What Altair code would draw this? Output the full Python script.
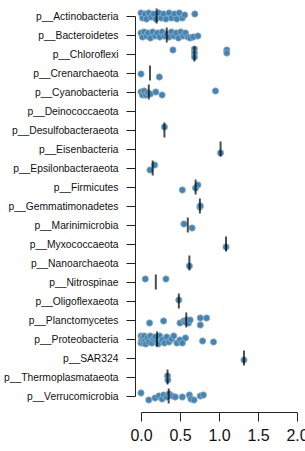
import altair as alt
import pandas as pd

categories = [
    "p__Actinobacteria", "p__Bacteroidetes", "p__Chloroflexi", "p__Crenarchaeota",
    "p__Cyanobacteria", "p__Deinococcaeota", "p__Desulfobacteraeota", "p__Eisenbacteria",
    "p__Epsilonbacteraeota", "p__Firmicutes", "p__Gemmatimonadetes", "p__Marinimicrobia",
    "p__Myxococcaeota", "p__Nanoarchaeota", "p__Nitrospinae", "p__Oligoflexaeota",
    "p__Planctomycetes", "p__Proteobacteria", "p__SAR324", "p__Thermoplasmataeota",
    "p__Verrucomicrobia",
]

# median line per category (None = no data)
medians = [0.20, 0.33, 0.685, 0.115, 0.10, None, 0.30, 1.02, 0.15, 0.70, 0.755, 0.60,
           1.09, 0.62, 0.19, 0.485, 0.58, 0.205, 1.32, 0.34, 0.355]

x_ticks = [0, 0.5, 1.0, 1.5, 2.0]

actino_vals = [0.00, 0.02, 0.05, 0.07, 0.10, 0.13, 0.16, 0.19, 0.23, 0.26, 0.29, 0.32,
               0.36, 0.39, 0.43, 0.46, 0.49, 0.53, 0.56, 0.69]
actino_jit = [-3, 2, -2, 3, -3, 1, -2, 3, -3, 2, -2, 3, -3, 2, -2, 3, -3, 2, -1, -2]

bactero_vals = [0.00, 0.02, 0.04, 0.07, 0.09, 0.12, 0.15, 0.18, 0.21, 0.24, 0.27, 0.30,
                0.33, 0.36, 0.39, 0.42, 0.45, 0.48, 0.51, 0.54, 0.57, 0.60, 0.63, 0.67, 0.73]
bactero_jit = [-2, 2, -3, 1, -2, 3, -3, 1, -2, 2, -3, 1, -1, 2, -3, 1, -2, 3, -3, 1, -2, 2, 3, 2, 1]

chloro_vals = [0.41, 0.685, 0.685, 0.685, 1.10, 1.10]
chloro_jit = [-4, -5, -1, 3, -4, -1]

crenar_vals = [0.00, 0.235]
crenar_jit = [1, 4]

cyano_vals = [0.00, 0.02, 0.04, 0.06, 0.09, 0.12, 0.19, 0.27, 0.955]
cyano_jit = [0, 3, -1, 3, 1, 2, 0, 3, -1]

desulfo_vals = [0.30]
desulfo_jit = [-3]

eisen_vals = [1.02]
eisen_jit = [4]

epsilon_vals = [0.115, 0.175]
epsilon_jit = [2, -3]

firmi_vals = [0.53, 0.70, 0.73]
firmi_jit = [3, 1, -2]

gemma_vals = [0.755, 0.76]
gemma_jit = [1, 0]

marini_vals = [0.55, 0.655]
marini_jit = [-1, 3]

myxo_vals = [1.09]
myxo_jit = [3]

nano_vals = [0.62]
nano_jit = [3]

nitro_vals = [0.055, 0.32]
nitro_jit = [-3, -3]

oligo_vals = [0.485]
oligo_jit = [-1]

plancto_vals = [0.11, 0.29, 0.50, 0.55, 0.57, 0.59, 0.61, 0.63, 0.76, 0.76, 0.84]
plancto_jit = [3, 1, 3, 1, 2, 0, 3, 0, -2, 5, -2]

proteo_vals = [0.00, 0.00, 0.01, 0.02, 0.03, 0.04, 0.05, 0.06, 0.08, 0.10, 0.12, 0.14,
               0.16, 0.18, 0.20, 0.22, 0.24, 0.27, 0.30, 0.33, 0.36, 0.39, 0.42, 0.46,
               0.50, 0.53, 0.57, 0.79, 0.93]
proteo_jit = [-3, 4, 1, -2, 4, -3, 2, 5, -1, 3, -3, 4, 0, -2, 3, 5, -3, 1, 4, -2, 3, 0,
              -3, 4, 1, 4, -1, 2, 3]

sar_vals = [1.32]
sar_jit = [2]

thermo_vals = [0.34, 0.345]
thermo_jit = [-1, 3]

verruco_vals = [0.00, 0.10, 0.18, 0.23, 0.27, 0.29, 0.33, 0.36, 0.40, 0.44, 0.53, 0.62,
                0.64, 0.68, 0.76, 0.80]
verruco_jit = [-3, 4, 2, 0, 3, -1, 1, -2, 0, 1, 1, -1, 3, 4, 0, -1]

groups = [
    ("p__Actinobacteria", actino_vals, actino_jit),
    ("p__Bacteroidetes", bactero_vals, bactero_jit),
    ("p__Chloroflexi", chloro_vals, chloro_jit),
    ("p__Crenarchaeota", crenar_vals, crenar_jit),
    ("p__Cyanobacteria", cyano_vals, cyano_jit),
    ("p__Desulfobacteraeota", desulfo_vals, desulfo_jit),
    ("p__Eisenbacteria", eisen_vals, eisen_jit),
    ("p__Epsilonbacteraeota", epsilon_vals, epsilon_jit),
    ("p__Firmicutes", firmi_vals, firmi_jit),
    ("p__Gemmatimonadetes", gemma_vals, gemma_jit),
    ("p__Marinimicrobia", marini_vals, marini_jit),
    ("p__Myxococcaeota", myxo_vals, myxo_jit),
    ("p__Nanoarchaeota", nano_vals, nano_jit),
    ("p__Nitrospinae", nitro_vals, nitro_jit),
    ("p__Oligoflexaeota", oligo_vals, oligo_jit),
    ("p__Planctomycetes", plancto_vals, plancto_jit),
    ("p__Proteobacteria", proteo_vals, proteo_jit),
    ("p__SAR324", sar_vals, sar_jit),
    ("p__Thermoplasmataeota", thermo_vals, thermo_jit),
    ("p__Verrucomicrobia", verruco_vals, verruco_jit),
]

rows = []
for name, vals, jits in groups:
    for v, j in zip(vals, jits):
        rows.append({"phylum": name, "value": v, "jitter": j})
pts_df = pd.DataFrame(rows)

med_df = pd.DataFrame(
    [{"phylum": c, "value": m} for c, m in zip(categories, medians) if m is not None]
)

FONT = "Liberation Sans"

y_enc = alt.Y(
    "phylum:N",
    sort=categories,
    scale=alt.Scale(type="point", domain=categories, padding=0),
    axis=alt.Axis(
        title=None, offset=6, tickSize=9, labelPadding=8, labelFontSize=10.3,
        labelFont=FONT, labelColor="#111111", domainColor="#222222",
        tickColor="#222222", labelLimit=200, labelOverlap=False,
    ),
)

x_enc = alt.X(
    "value:Q",
    scale=alt.Scale(domain=[0, 2], nice=False),
    axis=alt.Axis(
        title=None, values=x_ticks, format=".1f", offset=16,
        tickSize=9, labelPadding=6, labelFontSize=16, labelFont=FONT,
        labelColor="#111111", domainColor="#222222", tickColor="#222222",
        labelFlush=False, labelOverlap=False,
    ),
)

points = alt.Chart(pts_df).mark_circle(
    size=40, fill="#3a87bf", stroke="#a3a9ad", strokeWidth=0.8, opacity=1, fillOpacity=1
).encode(
    x=x_enc,
    y=y_enc,
    yOffset=alt.YOffset("jitter:Q", scale=alt.Scale(domain=[-10, 10], range=[-10, 10])),
)

ticks = alt.Chart(med_df).mark_tick(
    color="black", size=15, thickness=2, orient="vertical"
).encode(
    x=x_enc,
    y=y_enc,
)

chart = alt.layer(points, ticks).properties(
    width=156,
    height=380,
    autosize=alt.AutoSizeParams(type="none"),
    padding={"left": 141, "top": 16, "right": 8, "bottom": 55},
    background="white",
).configure_view(stroke=None).configure_axis(grid=False).configure_axisX(
    labelOverlap=False
)

chart.save("out.html", embed_options={"renderer": "svg", "actions": False})
